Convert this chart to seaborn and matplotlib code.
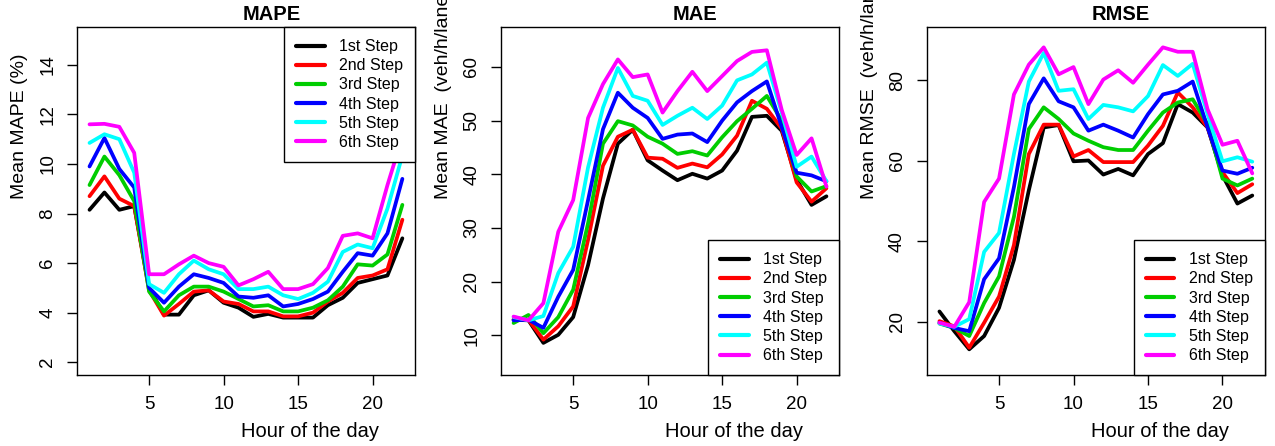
import matplotlib
matplotlib.use("Agg")
import matplotlib.pyplot as plt
import pandas as pd
import seaborn as sns

hours = list(range(1, 23))
steps = ["1st Step", "2nd Step", "3rd Step", "4th Step", "5th Step", "6th Step"]
colors = ["#000000", "#FF0000", "#00CD00", "#0000FF", "#00FFFF", "#FF00FF"]

# MAPE (%)
mape_1 = [8.15, 8.85, 8.15, 8.3, 5.0, 3.92, 3.92, 4.7, 4.9, 4.4, 4.2, 3.83, 3.95, 3.8, 3.8, 3.8, 4.3, 4.6, 5.2, 5.35, 5.5, 7.0]
mape_2 = [8.7, 9.5, 8.6, 8.3, 4.9, 3.88, 4.35, 4.85, 4.9, 4.45, 4.35, 4.05, 4.05, 3.85, 3.85, 4.0, 4.45, 4.8, 5.4, 5.5, 5.75, 7.75]
mape_3 = [9.15, 10.3, 9.55, 8.5, 4.85, 4.05, 4.7, 5.05, 5.05, 4.85, 4.55, 4.25, 4.3, 4.05, 4.05, 4.2, 4.5, 5.05, 5.95, 5.9, 6.35, 8.35]
mape_4 = [9.9, 11.05, 9.8, 9.05, 5.0, 4.4, 5.05, 5.55, 5.4, 5.2, 4.65, 4.6, 4.7, 4.25, 4.35, 4.55, 4.85, 5.65, 6.4, 6.3, 7.2, 9.4]
mape_5 = [10.85, 11.2, 11.0, 9.65, 5.15, 4.8, 5.55, 6.1, 5.75, 5.55, 4.95, 4.95, 5.05, 4.7, 4.55, 4.8, 5.25, 6.45, 6.75, 6.6, 8.2, 10.35]
mape_6 = [11.6, 11.62, 11.5, 10.45, 5.55, 5.55, 5.95, 6.3, 6.0, 5.85, 5.1, 5.35, 5.65, 4.95, 4.95, 5.15, 5.8, 7.1, 7.2, 7.0, 9.15, 11.1]

# MAE (veh/h/lane)
mae_1 = [12.9, 12.8, 8.6, 10.1, 13.4, 23.1, 35.5, 45.7, 48.3, 42.6, 40.7, 38.9, 40.1, 39.2, 40.7, 44.4, 50.7, 50.9, 48.1, 39.0, 34.3, 35.9]
mae_2 = [13.0, 12.9, 9.2, 11.7, 15.4, 27.8, 41.6, 47.0, 48.3, 43.1, 42.9, 41.2, 42.0, 41.3, 43.7, 47.2, 53.7, 52.2, 48.5, 38.5, 34.9, 37.4]
mae_3 = [12.3, 13.8, 10.4, 13.4, 18.5, 30.9, 45.7, 49.9, 49.1, 47.0, 45.7, 43.8, 44.3, 43.5, 46.9, 49.9, 52.2, 54.6, 50.0, 39.6, 36.8, 37.8]
mae_4 = [12.8, 12.9, 11.4, 17.2, 22.2, 35.2, 48.4, 55.2, 52.4, 50.5, 46.6, 47.4, 47.6, 46.0, 50.0, 53.4, 55.5, 57.3, 48.8, 40.3, 39.8, 38.7]
mae_5 = [13.4, 12.8, 13.6, 21.6, 26.5, 41.3, 52.4, 59.8, 54.6, 53.7, 49.2, 50.9, 52.4, 50.3, 52.8, 57.5, 58.6, 60.8, 51.5, 41.4, 43.3, 38.7]
mae_6 = [13.5, 12.8, 16.0, 29.3, 35.2, 50.5, 56.8, 61.4, 58.1, 58.6, 51.5, 55.5, 59.1, 55.5, 58.3, 61.1, 62.8, 63.1, 52.0, 43.6, 46.7, 37.7]

# RMSE (veh/h/lane)
rmse_1 = [22.6, 17.7, 13.2, 16.5, 23.5, 35.4, 52.7, 68.3, 68.9, 59.9, 60.1, 56.6, 58.0, 56.4, 61.7, 64.4, 74.1, 72.0, 68.3, 56.4, 49.4, 51.4]
rmse_2 = [20.2, 18.9, 13.6, 19.8, 26.3, 39.1, 61.7, 69.0, 69.0, 61.1, 62.7, 59.7, 59.7, 59.7, 63.8, 68.7, 77.0, 73.3, 68.3, 57.2, 52.0, 54.2]
rmse_3 = [19.6, 18.5, 16.5, 24.7, 31.3, 46.1, 67.9, 73.3, 70.4, 66.8, 65.0, 63.4, 62.7, 62.7, 67.5, 72.0, 74.5, 75.3, 69.1, 55.6, 53.9, 55.6]
rmse_4 = [19.8, 18.5, 17.7, 30.6, 35.8, 53.5, 74.1, 80.5, 74.8, 73.3, 67.5, 69.0, 67.5, 65.8, 71.6, 76.5, 77.4, 79.7, 68.3, 57.6, 56.8, 58.3]
rmse_5 = [19.6, 18.8, 20.7, 37.4, 42.1, 61.7, 79.7, 86.8, 77.4, 77.8, 70.4, 73.9, 73.3, 72.3, 76.1, 83.8, 81.1, 84.1, 71.6, 59.9, 60.9, 59.8]
rmse_6 = [19.8, 18.8, 24.9, 49.8, 55.6, 76.5, 83.9, 88.2, 81.5, 83.3, 74.1, 80.2, 82.5, 79.4, 83.9, 88.2, 87.1, 87.1, 72.8, 64.0, 65.0, 56.9]

panels = [
    ("MAPE", "Mean MAPE (%)", [mape_1, mape_2, mape_3, mape_4, mape_5, mape_6],
     (1.48, 15.52), [2, 4, 6, 8, 10, 12, 14], "upper right"),
    ("MAE", "Mean MAE  (veh/h/lane)", [mae_1, mae_2, mae_3, mae_4, mae_5, mae_6],
     (2.6, 67.4), [10, 20, 30, 40, 50, 60], "lower right"),
    ("RMSE", "Mean RMSE  (veh/h/lane)", [rmse_1, rmse_2, rmse_3, rmse_4, rmse_5, rmse_6],
     (6.8, 93.2), [20, 40, 60, 80], "lower right"),
]

sns.set_style("white")
plt.rcParams["font.family"] = ["Liberation Sans", "DejaVu Sans"]
plt.rcParams.update({"text.color": "black", "axes.labelcolor": "black",
                     "xtick.color": "black", "ytick.color": "black"})

fig = plt.figure(figsize=(12.75, 4.46), dpi=100)
lefts = [0.0604, 0.393, 0.727]

for left, (title, ylabel, series, ylim, yticks, loc) in zip(lefts, panels):
    ax = fig.add_axes([left, 0.159, 0.265, 0.780])
    frames = []
    for step, vals in zip(steps, series):
        frames.append(pd.DataFrame({"hour": hours, "value": vals, "step": step}))
    df = pd.concat(frames, ignore_index=True)

    sns.lineplot(data=df, x="hour", y="value", hue="step", hue_order=steps,
                 palette=colors, linewidth=2.7, ax=ax)

    ax.set_xlim(0.16, 22.84)
    ax.set_ylim(*ylim)
    ax.set_xticks([5, 10, 15, 20])
    ax.set_yticks(yticks)
    for s in ax.spines.values():
        s.set_visible(True)
        s.set_color("black")
        s.set_linewidth(1.0)
    ax.tick_params(axis="both", direction="out", length=7, width=1,
                   color="black", labelcolor="black", labelsize=13.5, pad=8,
                   bottom=True, left=True)
    ax.tick_params(axis="y", labelrotation=90)
    for lab in ax.get_yticklabels():
        lab.set_va("center")

    ax.set_title(title, fontsize=14.5, fontweight="bold", x=0.575, pad=5,
                 color="black")
    ax.set_xlabel("Hour of the day", fontsize=14.5, color="black")
    ax.xaxis.set_label_coords(0.69, -0.135)
    ax.set_ylabel(ylabel, fontsize=14, ha="left", color="black")
    ax.yaxis.set_label_coords(-0.145, 0.506)

    handles, labels = ax.get_legend_handles_labels()
    anchor = (1.0, 1.0) if loc == "upper right" else (1.0, 0.0)
    leg = ax.legend(handles, labels, loc=loc, bbox_to_anchor=anchor,
                    borderaxespad=0, fancybox=False, framealpha=1,
                    edgecolor="black", fontsize=11.5, handlelength=1.8,
                    handletextpad=0.9, labelspacing=0.26, borderpad=0.75)
    leg.get_frame().set_linewidth(1.0)
    for text in leg.get_texts():
        text.set_color("black")
    for line in leg.get_lines():
        line.set_linewidth(3)

fig.savefig("out.png", dpi=100)
